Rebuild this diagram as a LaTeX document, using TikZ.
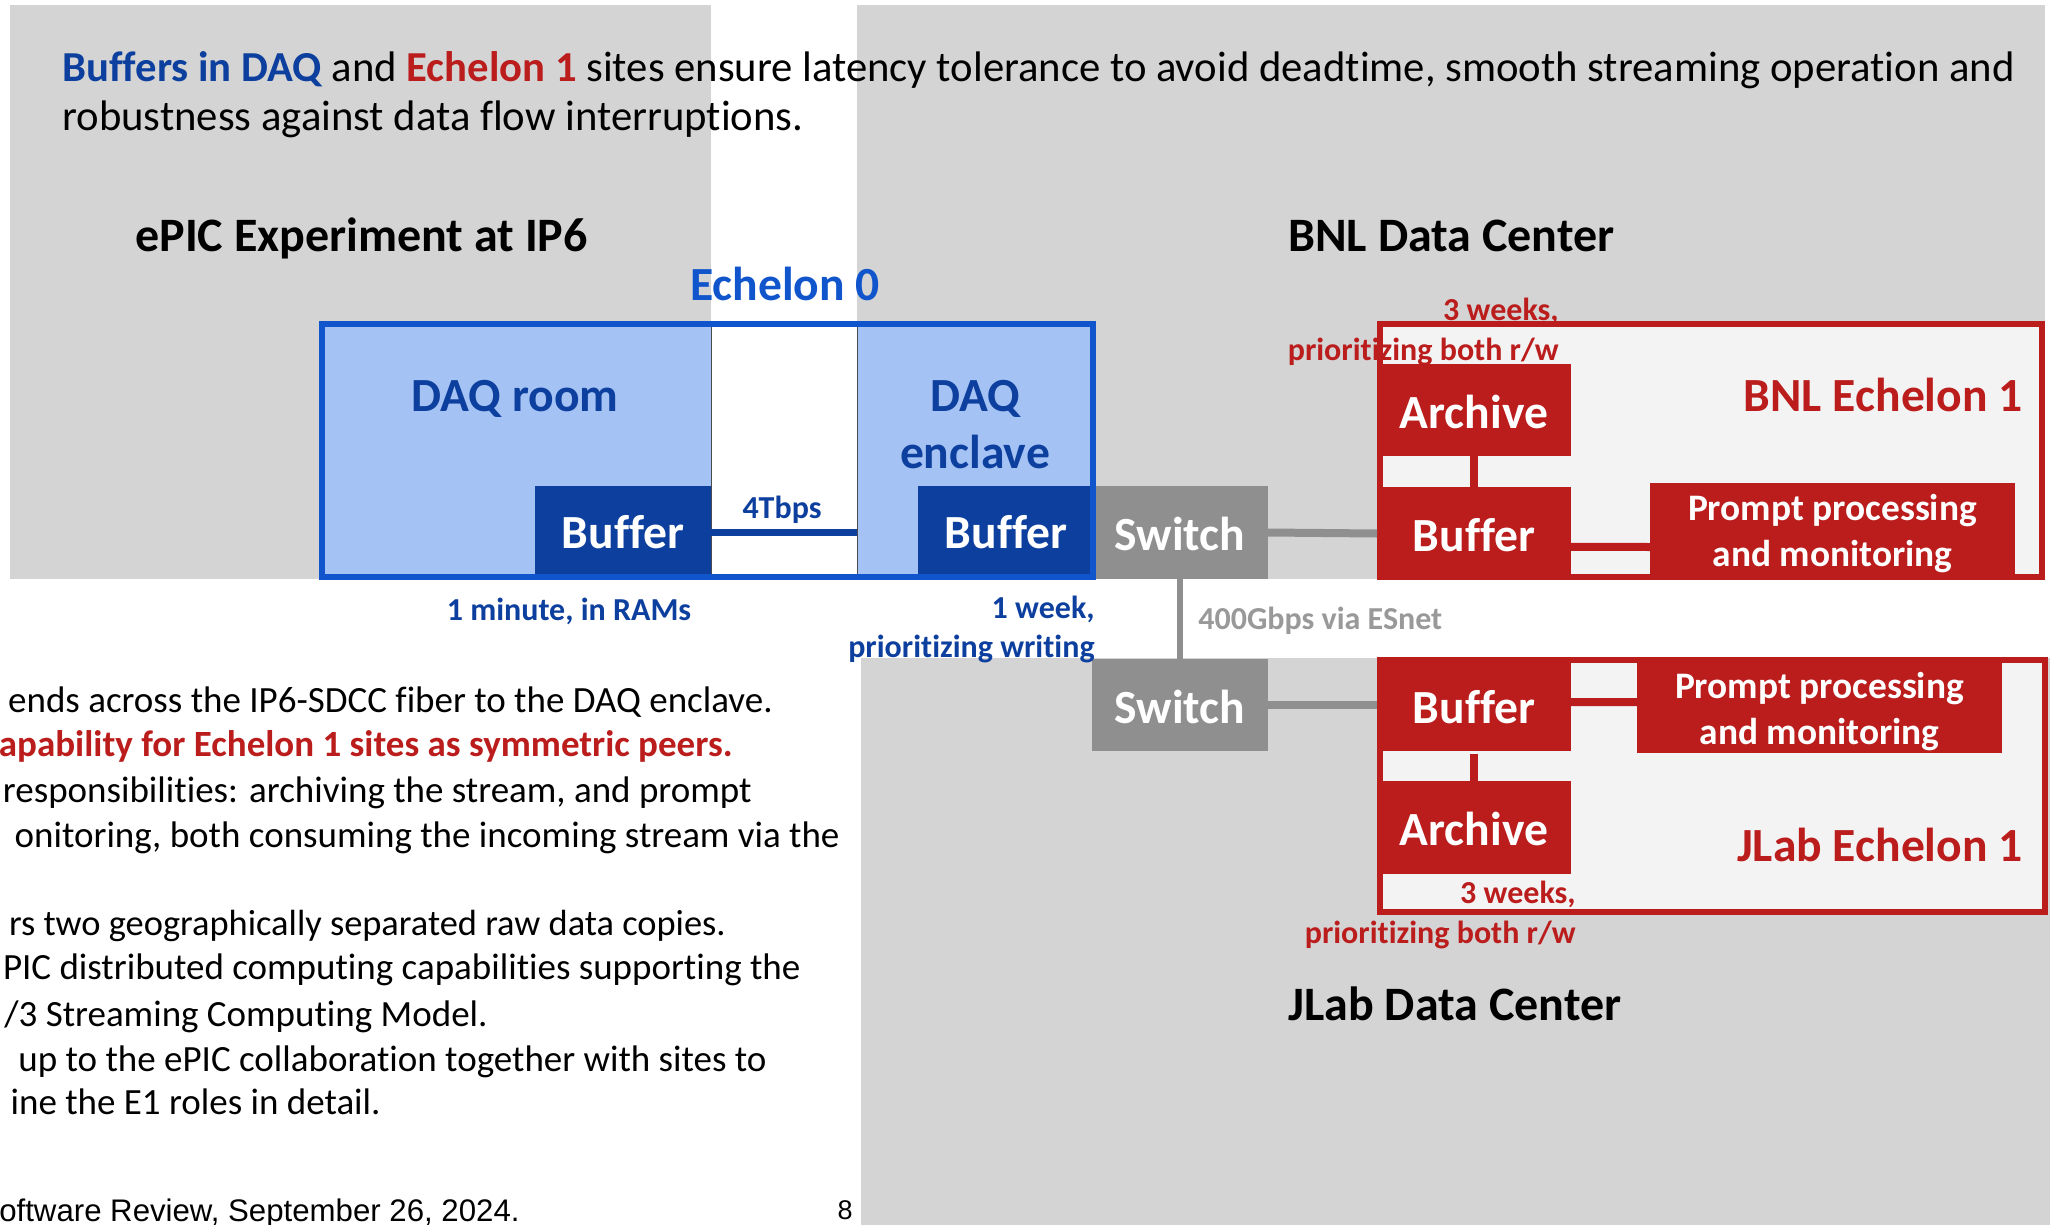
\documentclass[tikz,border=0pt]{standalone}
\usepackage{fontspec}
\setmainfont[Ligatures=NoCommon]{Carlito}
\newfontfamily\arialfont{Liberation Sans}
\definecolor{bggray}{HTML}{D4D4D4}
\definecolor{lightblue}{HTML}{A4C2F4}
\definecolor{darkblue}{HTML}{0D3F9E}
\definecolor{midblue}{HTML}{1155CC}
\definecolor{darkred}{HTML}{BB1C1C}
\definecolor{switchgray}{HTML}{8F8F8F}
\definecolor{labelgray}{HTML}{999999}
\definecolor{sitegray}{HTML}{F3F3F3}
\newcommand{\sizebody}{\fontsize{21.35}{24}\selectfont}
\newcommand{\sizehead}{\fontsize{24}{28}\selectfont\bfseries}
\newcommand{\sizeleft}{\fontsize{18.5}{20}\selectfont}
\newcommand{\sizebox}{\fontsize{23.8}{28}\selectfont\bfseries}
\newcommand{\sizeprompt}{\fontsize{18.7}{23}\selectfont\bfseries}
\newcommand{\sizesmall}{\fontsize{16}{18}\selectfont\bfseries}
\tikzset{
  sized/.style 2 args={minimum width=#1*0.5pt, minimum height=#2*0.5pt, inner sep=0pt, outer sep=0pt},
  boxtext/.style={text=white, font=\sizebox, text height=19pt, text depth=1pt},
  bluebox/.style 2 args={sized={#1}{#2}, fill=darkblue, boxtext},
  redbox/.style 2 args={sized={#1}{#2}, fill=darkred, boxtext},
  grayswitch/.style 2 args={sized={#1}{#2}, fill=switchgray, boxtext},
  promptbox/.style 2 args={sized={#1}{#2}, fill=darkred, text=white, font=\sizeprompt, align=center},
  sitebox/.style 2 args={sized={#1}{#2}, draw=darkred, line width=3pt, fill=sitegray},
  bodytext/.style={anchor=base west, inner sep=0pt, font=\sizebody},
  lefttext/.style={anchor=base east, inner sep=0pt, font=\sizeleft},
  headtext/.style={anchor=base west, inner sep=0pt, font=\sizehead},
  roomtext/.style={anchor=base, inner sep=0pt, font=\sizebox, text=darkblue},
  smallblue/.style={inner sep=0pt, font=\sizesmall, text=darkblue},
  smallred/.style={anchor=base east, inner sep=0pt, font=\sizesmall, text=darkred},
  sitetext/.style={anchor=base east, inner sep=0pt, font=\sizebox, text=darkred}
}
\begin{document}
\begin{tikzpicture}[x=0.5pt, y=-0.5pt]
  \useasboundingbox (0,0) rectangle (2050,1225);
  % gray backgrounds
  \fill [bggray] (10,5) rectangle (711,579);
  \fill [bggray] (857,5) rectangle (2045,579);
  \fill [bggray] (861,658) rectangle (2050,1225);
  % Echelon 0
  \node (echzero) [sized={771}{253}, fill=lightblue] at (707.5,450.5) {};
  \node (fibergap) [sized={146}{247}, fill=white] at (784,450.5) {};
  \draw [black!70, line width=0.5pt] (fibergap.north west) -- (fibergap.south west);
  \draw [black!70, line width=0.5pt] (fibergap.north east) -- (fibergap.south east);
  \node (bufdaq) [bluebox={176}{89}] at (623,530.5) {Buffer};
  \node (bufenc) [bluebox={176}{89}] at (1006,530.5) {Buffer};
  % Switches
  \node (swbnl) [grayswitch={176}{93}] at (1180,532.5) {Switch};
  \node (swjlab) [grayswitch={176}{92}] at (1180,705) {Switch};
  \draw [midblue, line width=3pt] (echzero.north west) rectangle (echzero.south east);
  % BNL Echelon 1
  \node (sitebnl) [sitebox={662}{253}] at (1711,450.5) {};
  \node (arcbnl) [redbox={194}{92}] at (1474,410) {Archive};
  \node (bufbnl) [redbox={194}{93}] at (1474,533.5) {Buffer};
  \node (prombnl) [promptbox={365}{94}] at (1832.5,530) {\rule{0pt}{17pt}Prompt processing\\and monitoring};
  % JLab Echelon 1
  \node (sitejlab) [sitebox={665}{252}] at (1712.5,786) {};
  \node (bufjlab) [redbox={194}{92}] at (1474,705) {Buffer};
  \node (promjlab) [promptbox={365}{91}] at (1819.5,707.5) {\rule{0pt}{17pt}Prompt processing\\and monitoring};
  \node (arcjlab) [redbox={194}{93}] at (1474,827.5) {Archive};
  % connections
  \draw [darkblue, line width=3.5pt] ([yshift=-1.2pt]bufdaq.east) -- ([yshift=-1.2pt]bufdaq.east -| fibergap.east);
  \draw [switchgray, line width=4pt] (swbnl.east) -- (bufbnl.west);
  \draw [switchgray, line width=4pt] (swjlab.east) -- (bufjlab.west);
  \draw [switchgray, line width=3.2pt] (swbnl.south) -- (swjlab.north);
  \draw [darkred, line width=4pt] (arcbnl.south) -- (bufbnl.north);
  \draw [darkred, line width=4pt, shorten <=1.5pt] (bufjlab.south) -- (arcjlab.north);
  \draw [darkred, line width=4pt] ([yshift=-6.7pt]bufbnl.east) -- ([yshift=-8.5pt]prombnl.west);
  \draw [darkred, line width=4pt] ([yshift=1.5pt]bufjlab.east) -- ([yshift=2.7pt]promjlab.west);
  % texts on top
  \node (introa) [bodytext] at (62,82) {\textbf{\textcolor{darkblue}{Buffers in DAQ}} and \textbf{\textcolor{darkred}{Echelon 1}} sites ensure latency tolerance to avoid deadtime, smooth streaming operation and};
  \node (introb) [bodytext] at (62,131) {robustness against data flow interruptions.};
  \node (headepic) [headtext] at (135,252) {ePIC Experiment at IP6};
  \node (headbnl) [headtext] at (1288,252) {BNL Data Center};
  \node (headjlab) [headtext] at (1288,1020) {JLab Data Center};
  \node (headzero) [roomtext, text=midblue] at (785,300) {Echelon 0};
  \node (txtroom) [roomtext] at (515,411) {DAQ room};
  \node (txtenca) [roomtext] at (975,411) {DAQ};
  \node (txtencb) [roomtext] at (975,468) {enclave};
  \node (txtrate) [smallblue, anchor=base] at (782,518) {4Tbps};
  \node (txtmin) [smallblue, anchor=base] at (569,620) {1 minute, in RAMs};
  \node (txtweeka) [smallblue, anchor=base east] at (1095,618) {1 week,};
  \node (txtweekb) [smallblue, anchor=base east] at (1095,657) {prioritizing writing};
  \node (txtesnet) [anchor=base west, inner sep=0pt, font=\sizesmall, text=labelgray] at (1198,629) {400Gbps via ESnet};
  \node (bnlweeka) [smallred] at (1559,321) {3 weeks,};
  \node (bnlweekb) [smallred] at (1559,360) {prioritizing both r/w};
  \node (jlabweeka) [smallred] at (1576,903) {3 weeks,};
  \node (jlabweekb) [smallred] at (1576,943) {prioritizing both r/w};
  \node (namebnl) [sitetext] at (2023,411) {BNL Echelon 1};
  \node (namejlab) [sitetext] at (2023,861) {JLab Echelon 1};
  % text below, cut by the page
  \node (lefta) [lefttext] at (773,712) {ends across the IP6-SDCC fiber to the DAQ enclave.};
  \node (leftb) [lefttext, text=darkred, font=\sizeleft\bfseries] at (733,756) {apability for Echelon 1 sites as symmetric peers.};
  \node (leftc) [lefttext] at (752,802) {responsibilities: archiving the stream, and prompt};
  \node (leftd) [lefttext] at (840,847) {onitoring, both consuming the incoming stream via the};
  \node (lefte) [lefttext, font=\fontsize{18.2}{20}\selectfont] at (726,935) {rs two geographically separated raw data copies.};
  \node (leftf) [lefttext] at (801,979) {PIC distributed computing capabilities supporting the};
  \node (leftg) [lefttext] at (488,1026) {/3 Streaming Computing Model.};
  \node (lefth) [lefttext] at (767,1071) {up to the ePIC collaboration together with sites to};
  \node (lefti) [lefttext] at (381,1114) {ine the E1 roles in detail.};
  \node (footer) [anchor=base east, inner sep=0pt, font=\arialfont\fontsize{15.6}{18}\selectfont] at (520,1221) {oftware Review, September 26, 2024.};
  \node (pagenum) [anchor=base, inner sep=0pt, font=\arialfont\fontsize{13.5}{16}\selectfont] at (845,1219) {8};
\end{tikzpicture}
\end{document}
